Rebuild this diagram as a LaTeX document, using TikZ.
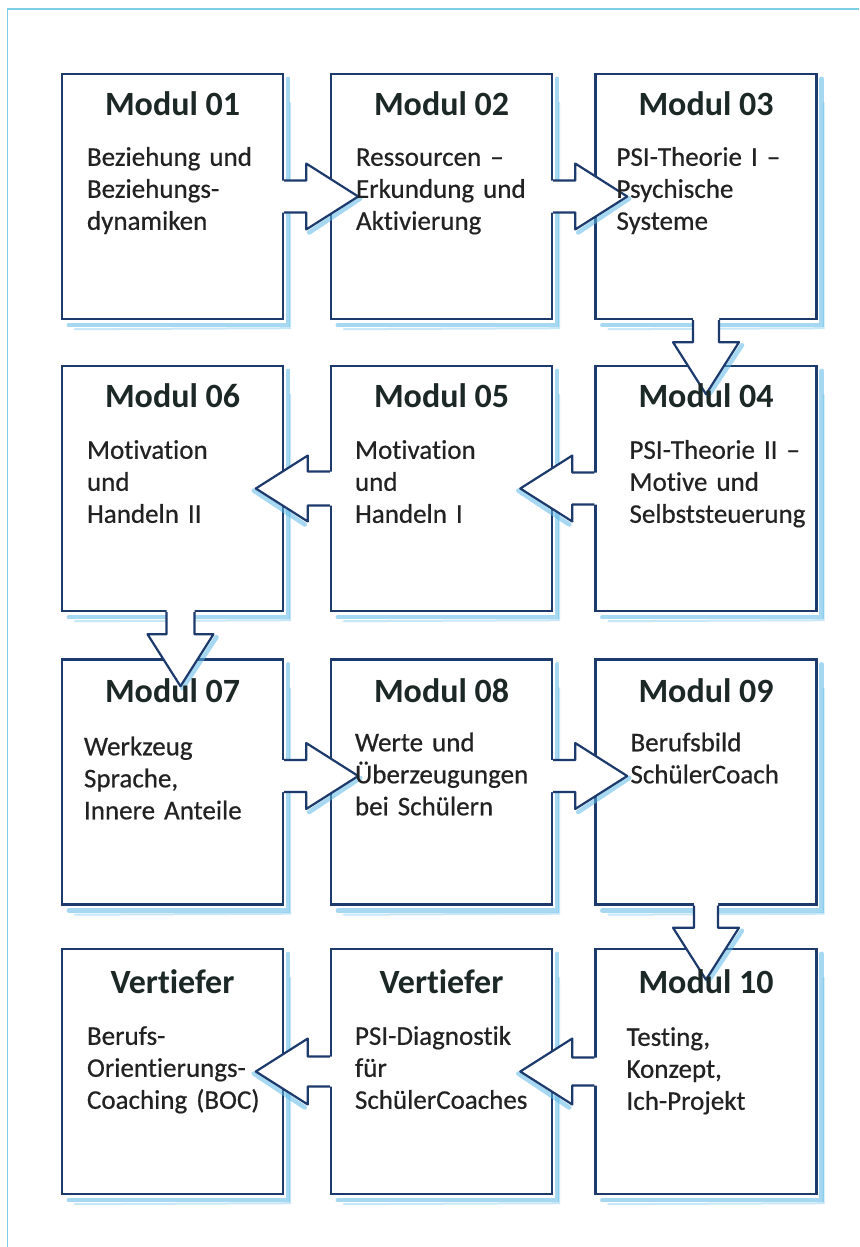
\documentclass[tikz,border=0pt]{standalone}
\usepackage{fontspec}
\setmainfont{Carlito}[Ligatures=NoCommon]
\newfontfamily\bodyfont{Carlito}[Ligatures=NoCommon, FakeBold=0.5, WordSpace=0.8]
\usetikzlibrary{calc}
\definecolor{navy}{RGB}{28,58,108}
\definecolor{crayon}{RGB}{95,185,230}
\definecolor{framecol}{RGB}{125,205,228}
\definecolor{titlecol}{RGB}{28,40,38}
\definecolor{bodycol}{RGB}{34,34,34}
\tikzset{
  modbox/.style={draw=navy, line width=2.4pt, minimum width=221pt, minimum height=245pt, inner sep=0pt, fill=white},
  crayonline/.style={draw=crayon, line width=4.5pt, opacity=0.55, line cap=round},
  crayonthin/.style={draw=crayon, line width=2pt, opacity=0.35, line cap=round},
  arrowline/.style={draw=navy, line width=2.2pt, line join=round},
  modtitle/.style={anchor=base, inner sep=0pt, text=titlecol, font=\fontsize{34}{40}\selectfont\bfseries},
  modbody/.style={anchor=base west, inner sep=0pt, text width=215pt, align=left, text=bodycol, font=\bodyfont\fontsize{27}{32}\selectfont}
}
% #1 position, #2 rotation, #3 shading side, #4 shaft half width
\newcommand\flowarrow[4]{%
  \begin{scope}[shift={(#1)},rotate=#2]
    \fill[white] (-3,-#4) -- (22,-#4) -- (22,-33) -- (74,0) -- (22,33) -- (22,#4) -- (-3,#4) -- cycle;
    \draw[crayonline] (76,{2*#3}) -- (25,{36*#3});
    \draw[arrowline] (0,-#4) -- (22,-#4) -- (22,-33) -- (74,0) -- (22,33) -- (22,#4) -- (0,#4);
  \end{scope}}
\newcommand\boxshade[1]{%
  \draw[crayonline] ($(#1.north east)+(4,6)$) -- ($(#1.south east)+(4,5)$) -- ($(#1.south west)+(8,5)$);
  \draw[crayonthin] ($(#1.north east)+(6,30)$) -- ($(#1.south east)+(6,8)$) -- ($(#1.south west)+(14,9)$);}
\begin{document}
\begin{tikzpicture}[x=1pt,y=-1pt]
\useasboundingbox (0,0) rectangle (859,1247);
\fill[white] (0,0) rectangle (859,1247);
\draw[framecol, line width=1.5pt] (7.5,1247) -- (7.5,9) -- (859,9);

% boxes
\node[modbox] (m01) at (172.5,196.5) {};
\node[modbox] (m02) at (441.5,196.5) {};
\node[modbox] (m03) at (706,196.5) {};
\node[modbox] (m06) at (172.5,488.5) {};
\node[modbox] (m05) at (441.5,488.5) {};
\node[modbox] (m04) at (706,488.5) {};
\node[modbox] (m07) at (172.5,782) {};
\node[modbox] (m08) at (441.5,782) {};
\node[modbox] (m09) at (706,782) {};
\node[modbox] (v1) at (172.5,1071.5) {};
\node[modbox] (v2) at (441.5,1071.5) {};
\node[modbox] (m10) at (706,1071.5) {};

\foreach \b in {m01,m02,m03,m04,m05,m06,m07,m08,m09,m10,v1,v2} {\boxshade{\b}}

% arrows
\flowarrow{m01.east}{0}{1}{16}
\flowarrow{m02.east}{0}{1}{16}
\flowarrow{m03.south}{-90}{-1}{13}
\flowarrow{m04.west}{180}{-1}{16}
\flowarrow{m05.west}{180}{-1}{17}
\flowarrow{$(m06.south)+(8,0)$}{-90}{-1}{14}
\flowarrow{$(m07.east)+(0,-6)$}{0}{1}{16}
\flowarrow{$(m08.east)+(0,-6)$}{0}{1}{16}
\flowarrow{m09.south}{-90}{-1}{12}
\flowarrow{m10.west}{180}{-1}{14}
\flowarrow{v2.west}{180}{-1}{15}

% titles
\node[modtitle] (t01) at ($(m01.north)+(0,43)$) {Modul 01};
\node[modtitle] (t02) at ($(m02.north)+(0,43)$) {Modul 02};
\node[modtitle] (t03) at ($(m03.north)+(0,43)$) {Modul 03};
\node[modtitle] (t04) at ($(m04.north)+(0,43)$) {Modul 04};
\node[modtitle] (t05) at ($(m05.north)+(0,43)$) {Modul 05};
\node[modtitle] (t06) at ($(m06.north)+(0,43)$) {Modul 06};
\node[modtitle] (t07) at ($(m07.north)+(0,44)$) {Modul 07};
\node[modtitle] (t08) at ($(m08.north)+(0,44)$) {Modul 08};
\node[modtitle] (t09) at ($(m09.north)+(0,44)$) {Modul 09};
\node[modtitle] (t10) at ($(m10.north)+(0,46)$) {Modul 10};
\node[modtitle] (tv1) at ($(v1.north)+(0,46)$) {Vertiefer};
\node[modtitle] (tv2) at ($(v2.north)+(0,46)$) {Vertiefer};

% bodies
\node[modbody] (b01) at ($(m01.north west)+(26,93)$) {Beziehung und\\Beziehungs-\\dynamiken};
\node[modbody] (b02) at ($(m02.north west)+(26,93)$) {Ressourcen –\\Erkundung und\\Aktivierung};
\node[modbody] (b03) at ($(m03.north west)+(22,93)$) {PSI-Theorie I –\\Psychische\\Systeme};
\node[modbody] (b06) at ($(m06.north west)+(26,94)$) {Motivation\\und\\Handeln II};
\node[modbody] (b05) at ($(m05.north west)+(25,94)$) {Motivation\\und\\Handeln I};
\node[modbody] (b04) at ($(m04.north west)+(35,94)$) {PSI-Theorie II –\\Motive und\\Selbststeuerung};
\node[modbody] (b07) at ($(m07.north west)+(23,97)$) {Werkzeug\\Sprache,\\Innere Anteile};
\node[modbody] (b08) at ($(m08.north west)+(25,93)$) {Werte und\\Überzeugungen\\bei Schülern};
\node[modbody] (b09) at ($(m09.north west)+(36,93)$) {Berufsbild\\SchülerCoach};
\node[modbody] (bv1) at ($(v1.north west)+(26,97)$) {Berufs-\\Orientierungs-\\Coaching (BOC)};
\node[modbody] (bv2) at ($(v2.north west)+(25,97)$) {PSI-Diagnostik\\für\\SchülerCoaches};
\node[modbody] (b10) at ($(m10.north west)+(32,98)$) {Testing,\\Konzept,\\Ich-Projekt};
\end{tikzpicture}
\end{document}
